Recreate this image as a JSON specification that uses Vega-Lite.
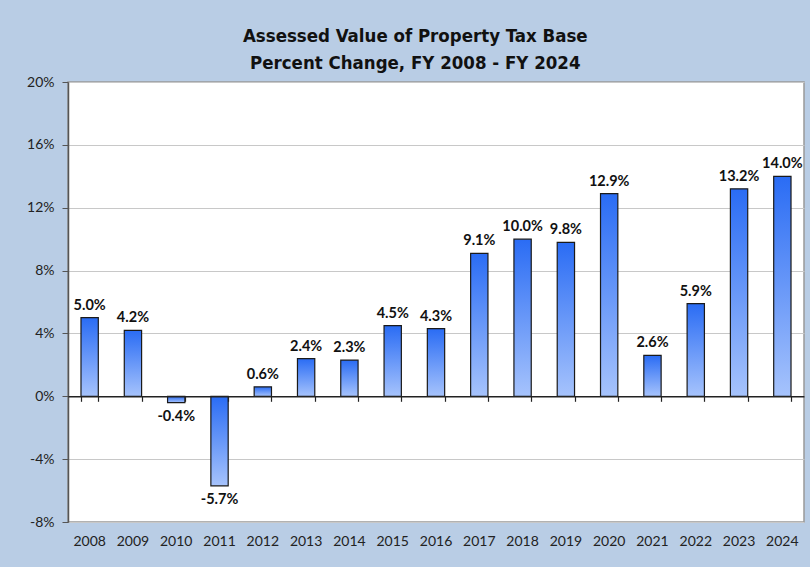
{
  "$schema": "https://vega.github.io/schema/vega-lite/v6.json",
  "width": 736,
  "height": 440,
  "autosize": {"type": "none"},
  "padding": {"left": 68, "top": 82, "right": 6, "bottom": 45},
  "background": "#b9cde5",
  "title": {
    "text": ["Assessed Value of Property Tax Base", "Percent Change, FY 2008 - FY 2024"],
    "font": "DejaVu Sans Condensed, Roboto",
    "fontSize": 18.5,
    "fontWeight": "bold",
    "color": "#111111",
    "lineHeight": 27,
    "offset": 3,
    "anchor": "middle",
    "frame": "bounds"
  },
  "config": {
    "view": {"stroke": "#999999", "strokeWidth": 1.5, "fill": "white"},
    "axis": {"labelFont": "Lato", "labelFontSize": 14, "labelColor": "#222222"}
  },
  "data": {
    "values": [
      {"year": "2008", "v": 5.0},
      {"year": "2009", "v": 4.2},
      {"year": "2010", "v": -0.4},
      {"year": "2011", "v": -5.7},
      {"year": "2012", "v": 0.6},
      {"year": "2013", "v": 2.4},
      {"year": "2014", "v": 2.3},
      {"year": "2015", "v": 4.5},
      {"year": "2016", "v": 4.3},
      {"year": "2017", "v": 9.1},
      {"year": "2018", "v": 10.0},
      {"year": "2019", "v": 9.8},
      {"year": "2020", "v": 12.9},
      {"year": "2021", "v": 2.6},
      {"year": "2022", "v": 5.9},
      {"year": "2023", "v": 13.2},
      {"year": "2024", "v": 14.0}
    ]
  },
  "transform": [{"calculate": "(datum.v < 0 ? '-' : '') + format(abs(datum.v), '.1f') + '%'", "as": "label"}],
  "layer": [
    {
      "mark": {
        "type": "bar",
        "stroke": "#1a1a1a",
        "strokeWidth": 1.2,
        "fill": {
          "gradient": "linear",
          "x1": 0, "y1": 0, "x2": 0, "y2": 1,
          "stops": [
            {"offset": 0, "color": "#2a6cf4"},
            {"offset": 1, "color": "#a6c3fc"}
          ]
        }
      },
      "encoding": {
        "x": {
          "field": "year", "type": "ordinal",
          "scale": {"paddingInner": 0.6, "paddingOuter": 0.3},
          "axis": {"title": null, "orient": "bottom", "labelAngle": 0, "ticks": false, "domain": false, "labelPadding": 12}
        },
        "y": {
          "field": "v", "type": "quantitative",
          "scale": {"domain": [-8, 20], "nice": false, "zero": false},
          "axis": {
            "title": null,
            "values": [-8, -4, 0, 4, 8, 12, 16, 20],
            "labelExpr": "datum.value + '%'",
            "grid": true,
            "gridColor": "#c8c8c8",
            "gridWidth": 1.2,
            "tickSize": 6,
            "tickColor": "#555555",
            "labelPadding": 8,
            "domainColor": "#555555",
            "domainWidth": 1.5
          }
        }
      }
    },
    {
      "transform": [{"filter": "datum.v >= 0"}],
      "mark": {"type": "text", "font": "Lato", "fontSize": 14.5, "fontWeight": "bold", "color": "#111111", "baseline": "alphabetic", "dy": -8},
      "encoding": {
        "x": {
          "field": "year", "type": "ordinal",
          "axis": {
            "title": null, "orient": "bottom", "labels": false, "offset": -125.7,
            "domain": true, "domainColor": "#222222", "domainWidth": 1.5,
            "ticks": true, "tickSize": 5, "tickColor": "#222222", "tickWidth": 1.2,
            "tickBand": "extent", "grid": false, "zindex": 1
          }
        },
        "y": {"field": "v", "type": "quantitative"},
        "text": {"field": "label"}
      }
    },
    {
      "transform": [{"filter": "datum.v < 0"}],
      "mark": {"type": "text", "font": "Lato", "fontSize": 14.5, "fontWeight": "bold", "color": "#111111", "baseline": "top", "dy": 7},
      "encoding": {
        "x": {"field": "year", "type": "ordinal", "axis": null},
        "y": {"field": "v", "type": "quantitative"},
        "text": {"field": "label"}
      }
    }
  ],
  "resolve": {"axis": {"x": "independent"}}
}
